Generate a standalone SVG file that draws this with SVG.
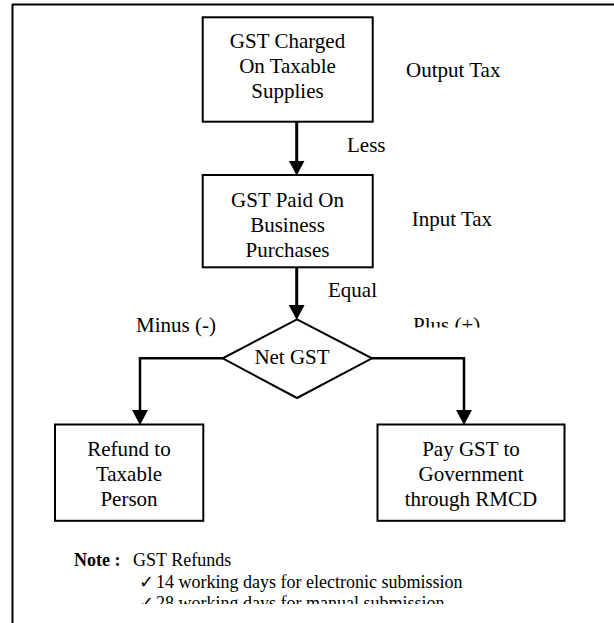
<svg xmlns="http://www.w3.org/2000/svg" width="614" height="623" viewBox="0 0 614 623">
<style>
text{font-family:"Liberation Serif","Times New Roman",serif;fill:#000}
.t{font-size:21px}
.c{text-anchor:middle}
.n{font-size:18px}
.box{fill:#fff;stroke:#000;stroke-width:2}
.con{fill:none;stroke:#000;stroke-width:2.5}
</style>
<defs>
<marker id="ah" markerUnits="userSpaceOnUse" markerWidth="15" markerHeight="16" refX="7" refY="7.5" orient="auto" viewBox="0 0 14 15">
<path d="M0,0 L14,7.5 L0,15 Z" fill="#000"/>
</marker>
<clipPath id="clipPlus"><rect x="380" y="300" width="150" height="27.5"/></clipPath>
<clipPath id="clipNote"><rect x="100" y="590" width="450" height="14"/></clipPath>
</defs>
<g id="frame">
<line x1="12" y1="4.5" x2="614" y2="4.5" stroke="#000" stroke-width="2"/>
<line x1="12.5" y1="4" x2="12.5" y2="623" stroke="#000" stroke-width="2"/>
</g>
<g id="connectors">
<line class="con" x1="296.7" y1="122" x2="296.7" y2="168" marker-end="url(#ah)" style="stroke-width:3"/>
<line class="con" x1="296.7" y1="267" x2="296.7" y2="312.3" marker-end="url(#ah)" style="stroke-width:3"/>
<polyline class="con" points="223,358.3 140,358.3 140,417.5" marker-end="url(#ah)"/>
<polyline class="con" points="372,358.3 464,358.3 464,417.5" marker-end="url(#ah)"/>
</g>
<g id="node-output">
<rect class="box" x="202.7" y="17.3" width="170" height="104.4"/>
<text class="t c" x="287.5" y="48.3">GST Charged</text>
<text class="t c" x="287.5" y="73.3">On Taxable</text>
<text class="t c" x="287.5" y="98.3">Supplies</text>
</g>
<g id="node-input">
<rect class="box" x="202.7" y="175" width="170" height="92.3"/>
<text class="t c" x="287.5" y="206.7">GST Paid On</text>
<text class="t c" x="287.5" y="231.7">Business</text>
<text class="t c" x="287.5" y="256.7">Purchases</text>
</g>
<g id="node-net">
<polygon class="box" points="297,319.3 372,358.3 297,398 222.7,358.3"/>
<text class="t c" x="292" y="363.5">Net GST</text>
</g>
<g id="node-refund">
<rect class="box" x="55" y="424.5" width="148.3" height="96.3"/>
<text class="t c" x="129" y="456.3">Refund to</text>
<text class="t c" x="129" y="481.3">Taxable</text>
<text class="t c" x="129" y="505.8">Person</text>
</g>
<g id="node-pay">
<rect class="box" x="377.5" y="424.5" width="187" height="96.3"/>
<text class="t c" x="471" y="456.3">Pay GST to</text>
<text class="t c" x="471" y="481.3">Government</text>
<text class="t c" x="471" y="505.8">through RMCD</text>
</g>
<g id="labels">
<text class="t" x="406" y="76.7">Output Tax</text>
<text class="t" x="347" y="151.7">Less</text>
<text class="t" x="411.7" y="226">Input Tax</text>
<text class="t" x="328" y="296.7">Equal</text>
<text class="t" x="136" y="332">Minus (-)</text>
<text class="t" x="413" y="332" clip-path="url(#clipPlus)">Plus (+)</text>
</g>
<g id="note">
<text class="n" x="74" y="566" font-weight="bold">Note :</text>
<text class="n" x="133" y="566">GST Refunds</text>
<text class="n" x="139" y="587.5">✓</text>
<text class="n" x="156" y="587.5">14 working days for electronic submission</text>
<g clip-path="url(#clipNote)">
<text class="n" x="139" y="609">✓</text>
<text class="n" x="156" y="609">28 working days for manual submission</text>
</g>
</g>
</svg>
